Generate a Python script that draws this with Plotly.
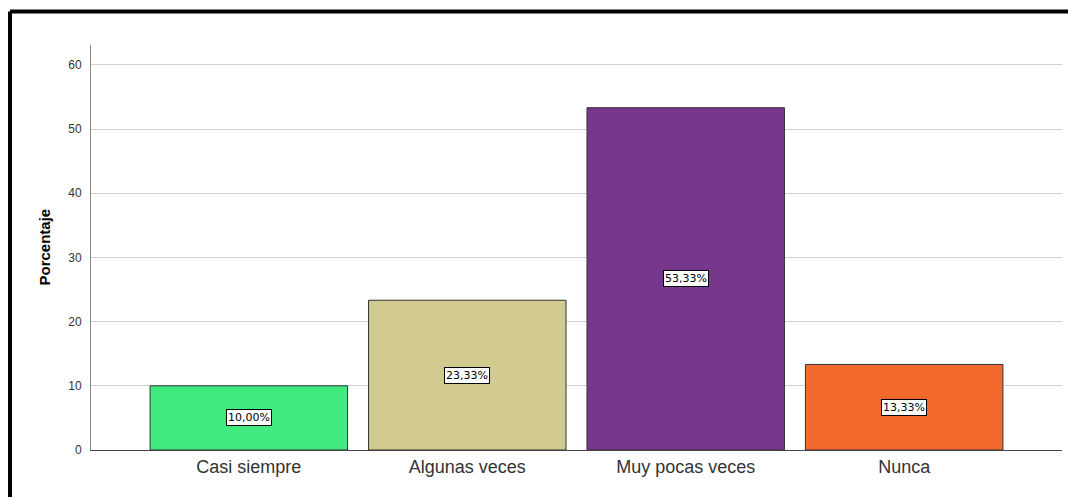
import plotly.graph_objects as go

categories = ["Casi siempre", "Algunas veces", "Muy pocas veces", "Nunca"]
percentages = [10.00, 23.33, 53.33, 13.33]
bar_colors = ["#41EA7E", "#D1CB8F", "#76378C", "#F2692D"]
y_ticks = [0, 10, 20, 30, 40, 50, 60]

fig = go.Figure(
    go.Bar(
        x=categories,
        y=percentages,
        width=0.904,
        marker=dict(color=bar_colors, line=dict(color="#333333", width=1)),
        hoverinfo="x+y",
    )
)

# value boxes in the middle of each bar
for cat, val in zip(categories, percentages):
    fig.add_annotation(
        x=cat, y=val / 2, text=f"{val:.2f}%".replace(".", ","),
        showarrow=False, bgcolor="white", bordercolor="black", borderwidth=1, borderpad=1,
        font=dict(family="DejaVu Sans", size=11, color="black"),
    )

fig.add_annotation(
    xref="paper", yref="paper", x=-0.0484, y=0.5, xanchor="center", yanchor="middle",
    text="<b>Porcentaje</b>", textangle=-90, showarrow=False,
    font=dict(family="Arial", size=15, color="black"),
)

# black frame on top and left
fig.add_shape(type="line", xref="paper", yref="paper", x0=-0.0834, x1=1.01, y0=1.0827, y1=1.0827,
              line=dict(color="black", width=4))
fig.add_shape(type="line", xref="paper", yref="paper", x0=-0.0834, x1=-0.0834, y0=1.0827, y1=-0.2,
              line=dict(color="black", width=4))

fig.update_layout(
    width=1068, height=497,
    margin=dict(l=91, r=6, t=45, b=47),
    plot_bgcolor="white", paper_bgcolor="white",
    showlegend=False,
    font=dict(family="Arial"),
    xaxis=dict(
        range=[-0.7225, 3.7225], showgrid=False, showline=True, linecolor="#444444", linewidth=1,
        ticks="", tickfont=dict(size=18, color="#333333"),
    ),
    yaxis=dict(
        range=[0, 63.1], tickvals=y_ticks, showgrid=True, gridcolor="#D0D0D0", gridwidth=1,
        showline=True, linecolor="#888888", linewidth=1, zeroline=False,
        ticks="", tickfont=dict(size=12, color="#333333"), ticklabelstandoff=6,
    ),
)

fig.write_html("out.html", config={"displayModeBar": False},
               post_script="document.body.style.margin='0px';")
